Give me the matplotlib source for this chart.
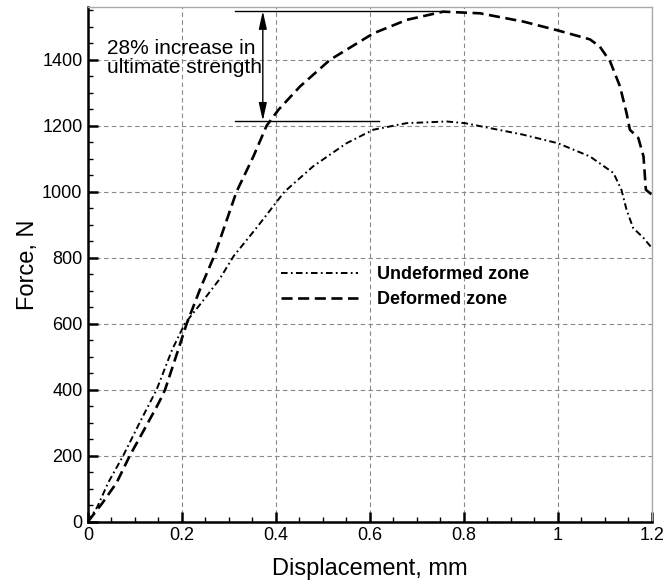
import matplotlib
matplotlib.use("Agg")
import matplotlib.pyplot as plt
from matplotlib.ticker import MultipleLocator

# Deformed zone curve (displacement mm, force N)
def_x = [0, 0.03, 0.061, 0.089, 0.12, 0.145, 0.157, 0.164, 0.192, 0.21,
         0.24, 0.27, 0.316, 0.352, 0.38, 0.405, 0.451, 0.515, 0.607,
         0.678, 0.756, 0.834, 0.926, 1.0, 1.068, 1.089, 1.111, 1.132,
         1.146, 1.153, 1.171, 1.182, 1.187, 1.2]
def_y = [0, 55, 118, 200, 280, 345, 378, 400, 521, 600,
         710, 810, 1000, 1107, 1200, 1248, 1319, 1400, 1480,
         1521, 1546, 1541, 1516, 1489, 1462, 1440, 1395, 1319,
         1238, 1188, 1163, 1107, 1006, 991]

# Undeformed zone curve
und_x = [0, 0.02, 0.043, 0.075, 0.11, 0.146, 0.157, 0.179, 0.206, 0.245,
         0.28, 0.31, 0.36, 0.418, 0.479, 0.55, 0.607, 0.678, 0.763, 0.802,
         0.926, 1.0, 1.068, 1.118, 1.135, 1.146, 1.16, 1.182, 1.2]
und_y = [0, 45, 118, 200, 300, 400, 440, 521, 600, 670,
         735, 805, 893, 1000, 1077, 1147, 1188, 1208, 1213, 1208,
         1173, 1147, 1107, 1057, 1006, 945, 890, 860, 829]

peak_def = 1548
peak_und = 1215


def main():
    plt.rcParams['font.family'] = ['Liberation Sans', 'DejaVu Sans']
    fig = plt.figure(figsize=(6.68, 5.86), dpi=100)
    ax = fig.add_axes([0.1317, 0.1099, 0.8443, 0.8781])

    ax.plot(und_x, und_y, color='black', lw=1.4,
            dashes=(3.4, 1.7, 0.9, 1.7), label="Undeformed zone")
    ax.plot(def_x, def_y, color='black', lw=1.9,
            dashes=(4.2, 2.1), label="Deformed zone")

    # reference lines and arrow for the strength increase
    ax.plot([0.313, 0.756], [peak_def, peak_def], color='black', lw=1.0)
    ax.plot([0.313, 0.62], [peak_und, peak_und], color='black', lw=1.0)
    ax.annotate("", xy=(0.372, peak_und), xytext=(0.372, peak_def),
                arrowprops=dict(arrowstyle='<|-|>,head_length=0.9,head_width=0.2',
                                color='black', lw=1.0, shrinkA=0, shrinkB=0,
                                mutation_scale=12))
    ax.text(0.04, 1462, "28% increase in\nultimate strength", fontsize=15,
            va='top', ha='left', linespacing=1.0)

    ax.set_xlim(0, 1.2)
    ax.set_ylim(0, 1560)
    ax.xaxis.set_major_locator(MultipleLocator(0.2))
    ax.xaxis.set_minor_locator(MultipleLocator(0.05))
    ax.yaxis.set_major_locator(MultipleLocator(200))
    ax.yaxis.set_minor_locator(MultipleLocator(50))
    ax.set_xticks([0, 0.2, 0.4, 0.6, 0.8, 1.0, 1.2])
    ax.set_xticklabels(["0", "0.2", "0.4", "0.6", "0.8", "1", "1.2"])

    ax.grid(True, which='major', color='#888888', lw=0.8,
            linestyle=(0, (4, 3)))
    ax.tick_params(which='major', direction='in', length=7, width=1.8,
                   labelsize=13, pad=4)
    ax.tick_params(which='minor', direction='in', length=3.5, width=1.0)

    for side in ['left', 'bottom']:
        ax.spines[side].set_linewidth(1.8)
    for side in ['top', 'right']:
        ax.spines[side].set_color('#aaaaaa')
        ax.spines[side].set_linewidth(1.0)

    ax.set_xlabel("Displacement, mm", fontsize=17, labelpad=10)
    ax.set_ylabel("Force, N", fontsize=17, labelpad=2)

    ax.legend(loc='upper left', bbox_to_anchor=(0.342, 0.497),
              frameon=False, handlelength=4.3, handletextpad=1.0,
              borderpad=0, borderaxespad=0, labelspacing=0.45,
              prop={'size': 13, 'weight': 'bold'})

    fig.savefig("out.png", dpi=100)
    return 0


if __name__ == "__main__":
    main()
